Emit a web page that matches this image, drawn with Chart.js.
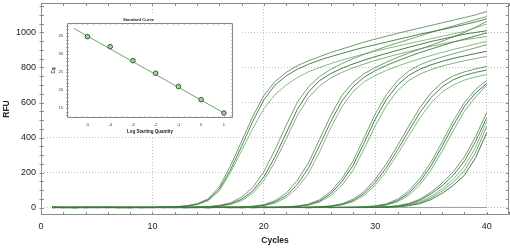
<!DOCTYPE html>
<html>
<head>
<meta charset="utf-8">
<script src="https://cdn.jsdelivr.net/npm/chart.js@4.4.0/dist/chart.umd.min.js"></script>
<style>
  html, body { margin: 0; padding: 0; background: #fff; }
  #wrap { position: relative; width: 510px; height: 248px; }
  #main { position: absolute; left: 0; top: 0; }
  #inset { position: absolute; left: 44px; top: 14px; background: #fff; }
</style>
</head>
<body>
<div id="wrap">
  <canvas id="main" width="510" height="248"></canvas>
  <canvas id="inset" width="196" height="122"></canvas>
</div>
<script>
// amplification curves, RFU per cycle
var cycles = [1,2,3,4,5,6,7,8,9,10,11,12,13,14,15,16,17,18,19,20,21,22,23,24,25,26,27,28,29,30,31,32,33,34,35,36,37,38,39,40];

var g1a = [2,1,0,1,2,1,0,2,1,2, 3,5,10,22,50,118,238,378,520,640, 720,772,810,838,862,885,905,925,945,962, 978,995,1010,1025,1040,1055,1070,1085,1100,1120];
var g1b = [0,1,2,1,0,1,2,1,0,1, 2,4,9,19,44,105,215,350,492,615, 700,752,790,818,842,862,880,898,915,930, 945,960,975,990,1003,1017,1030,1045,1060,1078];
var g1c = [1,2,1,0,2,1,1,0,2,1, 2,4,8,17,40,95,200,325,450,565, 645,700,742,775,800,822,842,860,877,893, 908,922,936,950,964,978,992,1006,1027,1048];

var g2a = [1,0,2,1,1,2,0,1,2,1, 0,2,2,3,6,13,28,60,115,205, 330,470,600,690,748,790,822,850,875,898, 920,940,960,980,1000,1018,1037,1055,1073,1091];
var g2b = [2,1,0,2,1,0,1,2,1,0, 1,2,1,2,5,10,22,48,95,175, 290,425,560,660,725,765,795,820,842,862, 880,898,915,932,948,962,976,990,1000,1010];
var g2c = [0,2,1,1,0,2,1,0,1,2, 1,0,2,2,4,8,18,40,82,155, 262,392,525,628,695,740,772,798,820,840, 858,875,891,906,920,934,947,958,968,977];

var g3a = [1,2,1,0,1,2,1,1,0,2, 1,0,2,1,1,2,2,4,8,17, 40,82,155,255,390,525,640,715,765,800, 830,858,882,905,927,950,975,1000,1030,1063];
var g3b = [2,0,1,2,1,0,2,1,1,0, 2,1,0,1,2,1,2,3,6,13, 32,68,132,225,355,490,608,690,745,782, 812,838,862,885,905,925,945,962,980,997];
var g3c = [0,1,2,1,1,2,0,1,2,1, 0,2,1,1,0,2,1,3,5,11, 26,57,112,195,318,455,575,662,718,755, 783,808,830,850,868,886,903,918,934,949];

var g4a = [1,1,2,0,1,2,1,0,2,1, 2,1,0,2,1,1,2,0,1,2, 2,5,9,20,45,92,165,265,400,535, 645,725,780,815,840,860,878,895,912,930];
var g4b = [2,1,0,1,2,1,1,2,0,1, 1,2,1,0,2,1,0,1,2,1, 2,4,8,17,38,80,148,240,370,505, 618,700,755,790,815,835,852,866,880,892];
var g4c = [0,2,1,2,1,0,1,2,1,1, 2,0,1,2,1,2,1,0,2,1, 1,3,6,14,32,68,128,212,335,468, 582,668,725,762,788,808,824,838,851,863];

var g5a = [1,0,2,1,2,1,0,1,2,1, 1,2,0,1,2,1,1,2,0,1, 2,1,1,2,5,10,22,48,92,162, 250,355,465,570,655,715,752,775,792,806];
var g5b = [2,1,1,0,1,2,1,0,1,2, 0,1,2,1,0,2,1,1,2,0, 1,2,1,2,4,8,18,40,80,145, 228,330,438,542,628,690,730,755,772,785];
var g5c = [0,1,2,1,0,1,2,1,2,0, 1,2,1,0,1,2,0,1,1,2, 1,0,2,1,3,7,15,34,70,128, 208,305,410,512,598,660,700,728,746,760];

var g6a = [1,2,0,1,1,2,1,0,2,1, 2,1,0,1,2,1,1,0,2,1, 0,2,1,1,2,0,1,2,5,10, 22,48,95,165,260,375,495,600,675,726];
var g6b = [2,0,1,2,1,1,0,2,1,0, 1,2,1,1,0,2,1,2,0,1, 2,1,0,2,1,1,2,2,4,8, 18,40,82,148,238,350,470,578,655,709];
var g6c = [0,1,1,2,0,1,2,1,1,2, 1,0,2,1,1,2,0,1,2,1, 1,2,1,0,2,1,1,0,3,7, 15,34,70,130,215,322,440,550,632,700];

var g7a = [1,1,0,2,1,2,1,0,1,2, 0,1,2,1,1,0,2,1,1,2, 1,0,1,2,1,2,0,1,1,2, 5,11,24,48,88,140,205,290,405,543];
var g7b = [2,1,2,0,1,1,2,1,0,1, 2,1,0,1,2,1,1,2,0,1, 1,2,1,0,2,1,1,2,1,2, 4,9,20,42,78,125,185,265,378,513];
var g7c = [0,2,1,1,2,0,1,2,1,1, 1,0,2,1,0,2,1,1,2,0, 2,1,1,2,0,1,2,1,2,1, 3,7,16,34,64,108,162,235,345,491];
var g7d = [1,0,1,2,1,2,1,0,2,1, 2,1,1,0,2,1,0,2,1,1, 0,2,1,1,2,0,1,2,1,1, 3,6,13,28,55,95,145,210,315,463];
var g7e = [2,1,0,1,1,2,0,1,1,2, 1,2,1,2,0,1,2,0,1,2, 1,1,2,0,1,2,1,1,0,2, 2,5,11,23,46,82,127,185,285,427];

var ntc = [1,2,0,1,2,1,1,0,2,1, 2,1,1,2,0,1,2,1,0,2, 1,1,2,0,1,2,1,1,2,0, 1,2,1,1,0,2,1,2,1,1];

// standard curve
var logQty = [-5, -4, -3, -2, -1, 0, 1];
var cqVals = [34.9, 32.1, 28.2, 24.7, 21.0, 17.3, 13.6];
var fitX = [-5.6, 1.0];
var fitY = [37.2, 13.6];

var curves = [g1a, g1b, g1c, g2a, g2b, g2c, g3a, g3b, g3c, g4a, g4b, g4c,
              g5a, g5b, g5c, g6a, g6b, g6c, g7a, g7b, g7c, g7d, g7e, ntc];
var lineColors = ['rgba(60,125,60,0.75)', 'rgba(40,100,40,0.8)', 'rgba(100,160,100,0.75)',
                  'rgba(70,135,70,0.75)', 'rgba(30,90,30,0.8)', 'rgba(90,150,90,0.75)'];

var fontFam = "'Liberation Sans', Arial, sans-serif";

// draws the frame and the little inward ticks on all sides
function frameTicks(len, color) {
  return {
    id: 'frameTicks',
    afterDraw: function(chart) {
      var ctx = chart.ctx, a = chart.chartArea;
      var xs = chart.scales.x, ys = chart.scales.y;
      ctx.save();
      ctx.strokeStyle = color;
      ctx.lineWidth = 1;
      ctx.beginPath();
      ctx.rect(Math.round(a.left) + 0.5, Math.round(a.top) + 0.5,
               Math.round(a.right - a.left) - 1, Math.round(a.bottom - a.top) - 1);
      xs.ticks.forEach(function(t) {
        var px = Math.round(xs.getPixelForValue(t.value)) + 0.5;
        ctx.moveTo(px, a.bottom); ctx.lineTo(px, a.bottom - len);
        ctx.moveTo(px, a.top); ctx.lineTo(px, a.top + len);
      });
      ys.ticks.forEach(function(t) {
        var py = Math.round(ys.getPixelForValue(t.value)) + 0.5;
        ctx.moveTo(a.left - len / 2, py); ctx.lineTo(a.left + len, py);
        ctx.moveTo(a.right, py); ctx.lineTo(a.right - len, py);
      });
      ctx.stroke();
      ctx.restore();
    }
  };
}

function noPadX(s, h) { s.height = h; s.paddingLeft = 0; s.paddingRight = 0; }
function noPadY(s, w) { s.width = w; s.paddingTop = 0; s.paddingBottom = 0; }

var datasets = curves.map(function(c, i) {
  return {
    data: c.map(function(v, j) { return {x: cycles[j], y: v}; }),
    borderColor: lineColors[i % lineColors.length],
    borderWidth: 1,
    pointRadius: 0,
    fill: false,
    tension: 0
  };
});

var mainChart = new Chart(document.getElementById('main'), {
  type: 'line',
  data: { datasets: datasets },
  options: {
    responsive: false,
    animation: false,
    events: [],
    layout: { padding: { top: 3, right: 1, left: 0, bottom: 0 } },
    plugins: { legend: { display: false }, tooltip: { enabled: false } },
    scales: {
      x: {
        type: 'linear', min: 0, max: 42,
        afterBuildTicks: function(s) {
          var t = [];
          for (var v = 0; v <= 42; v += 2) t.push({value: v});
          s.ticks = t;
        },
        afterFit: function(s) { noPadX(s, 33); },
        ticks: {
          autoSkip: false, maxRotation: 0, padding: 6, color: '#222',
          font: { family: fontFam, size: 9 },
          callback: function(v) { return v % 10 === 0 ? v : ''; }
        },
        grid: {
          drawTicks: false,
          color: function(c) { return c.tick && c.tick.value % 10 === 0 && c.tick.value > 0 ? '#c4c4c4' : 'rgba(0,0,0,0)'; }
        },
        border: { display: false, dash: [1, 2] },
        title: { display: true, text: 'Cycles', color: '#222', padding: { top: 0, bottom: 2 },
                 font: { family: fontFam, size: 8.5, weight: 'bold' } }
      },
      y: {
        min: -42, max: 1168,
        afterBuildTicks: function(s) {
          var t = [];
          for (var v = 0; v <= 1150; v += 50) t.push({value: v});
          s.ticks = t;
        },
        afterFit: function(s) { noPadY(s, 41); },
        ticks: {
          autoSkip: false, padding: 5, color: '#222',
          font: { family: fontFam, size: 9 },
          callback: function(v) { return v % 200 === 0 ? v : ''; }
        },
        grid: {
          drawTicks: false,
          color: function(c) { return c.tick && c.tick.value % 200 === 0 ? '#c4c4c4' : 'rgba(0,0,0,0)'; }
        },
        border: { display: false, dash: [1, 2] },
        title: { display: true, text: 'RFU', color: '#222', padding: { top: 2, bottom: 0 },
                 font: { family: fontFam, size: 8.5, weight: 'bold' } }
      }
    }
  },
  plugins: [frameTicks(3, '#8a8a8a')]
});

// inset: standard curve
var insetChart = new Chart(document.getElementById('inset'), {
  type: 'scatter',
  data: {
    datasets: [
      {
        data: logQty.map(function(v, i) { return {x: v, y: cqVals[i]}; }),
        pointRadius: 2.3,
        pointBorderWidth: 1,
        pointBorderColor: '#2d5e2d',
        pointBackgroundColor: '#a8cfa0'
      },
      {
        type: 'line',
        data: fitX.map(function(v, i) { return {x: v, y: fitY[i]}; }),
        borderColor: '#6aa86a',
        borderWidth: 1,
        pointRadius: 0
      }
    ]
  },
  options: {
    responsive: false,
    animation: false,
    events: [],
    layout: { padding: { top: 0, right: 7, left: 0, bottom: 0 } },
    plugins: {
      legend: { display: false }, tooltip: { enabled: false },
      title: { display: true, text: 'Standard Curve', color: '#222', padding: { top: 3, bottom: 1 },
               font: { family: fontFam, size: 4.2, weight: 'bold' } }
    },
    scales: {
      x: {
        type: 'linear', min: -5.9, max: 1.4,
        afterBuildTicks: function(s) {
          var t = [];
          for (var v = -23; v <= 5; v++) t.push({value: v / 4});
          s.ticks = t;
        },
        afterFit: function(s) { noPadX(s, 18); },
        ticks: {
          autoSkip: false, maxRotation: 0, padding: 4, color: '#333',
          font: { family: fontFam, size: 4 },
          callback: function(v) { return Number.isInteger(v) ? v : ''; }
        },
        grid: { display: false, drawTicks: false },
        border: { display: false },
        title: { display: true, text: 'Log Starting Quantity', color: '#222', padding: { top: 0, bottom: 2 },
                 font: { family: fontFam, size: 4.5, weight: 'bold' } }
      },
      y: {
        min: 12.2, max: 38.7,
        afterBuildTicks: function(s) {
          var t = [];
          for (var v = 13; v <= 38; v++) t.push({value: v});
          s.ticks = t;
        },
        afterFit: function(s) { noPadY(s, 23); },
        ticks: {
          autoSkip: false, padding: 4, color: '#333',
          font: { family: fontFam, size: 4 },
          callback: function(v) { return v % 5 === 0 ? v : ''; }
        },
        grid: { display: false, drawTicks: false },
        border: { display: false },
        title: { display: true, text: 'Cq', color: '#222', padding: { top: 7, bottom: 0 },
                 font: { family: fontFam, size: 4.5, weight: 'bold' } }
      }
    }
  },
  plugins: [frameTicks(1.5, '#888')]
});
</script>
</body>
</html>
